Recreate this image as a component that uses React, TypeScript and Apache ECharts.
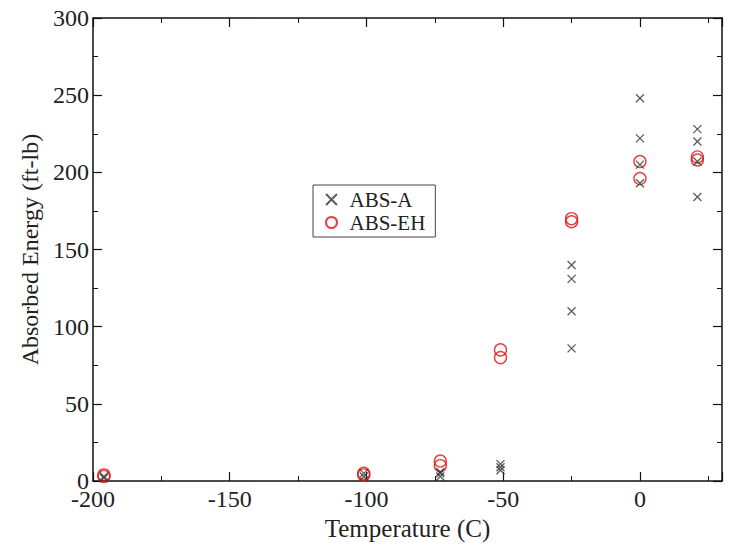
import React, { useEffect, useRef } from "react";
import * as echarts from "echarts";

const absATemps = [-196, -196, -101, -101, -73, -73, -73, -51, -51, -51, -25, -25, -25, -25, 0, 0, 0, 0, 21, 21, 21, 21];
const absAValues = [3, 2, 5, 3, 6, 5, 3, 11, 9, 7, 140, 131, 110, 86, 248, 222, 205, 193, 228, 220, 207, 184];
const absEHTemps = [-196, -196, -101, -101, -73, -73, -51, -51, -25, -25, 0, 0, 21, 21];
const absEHValues = [4, 3, 5, 4, 13, 10, 85, 80, 170, 168, 207, 196, 210, 208];

const FONT = "Liberation Serif";
const CROSS = "path://M0 0L10 10M10 0L0 10";

export default function App() {
  const ref = useRef<HTMLDivElement>(null);
  useEffect(() => {
    if (!ref.current) return;
    const chart = echarts.init(ref.current, null, { renderer: "svg" });
    const axisCommon = {
      type: "value" as const,
      axisLine: { show: true, onZero: false, lineStyle: { color: "#111", width: 1.5 } },
      axisTick: { show: true, inside: true, length: 9, lineStyle: { color: "#111", width: 1.2 } },
      minorTick: { show: true, splitNumber: 2, length: 5, lineStyle: { color: "#111", width: 1 } },
      splitLine: { show: false },
    };
    chart.setOption({
      animation: false,
      backgroundColor: "#fff",
      textStyle: { fontFamily: FONT },
      grid: { left: 93, right: 9, top: 18, bottom: 58, containLabel: false },
      xAxis: [
        {
          ...axisCommon,
          min: -200,
          max: 30,
          interval: 50,
          position: "bottom",
          axisLabel: { show: true, color: "#222", fontSize: 24, fontFamily: FONT, margin: 6, showMaxLabel: false },
          name: "Temperature (C)",
          nameLocation: "middle",
          nameGap: 31,
          nameTextStyle: { color: "#222", fontSize: 25, fontFamily: FONT },
        },
        {
          ...axisCommon,
          min: -200,
          max: 30,
          interval: 50,
          position: "top",
          axisLabel: { show: false },
        },
      ],
      yAxis: [
        {
          ...axisCommon,
          min: 0,
          max: 300,
          interval: 50,
          position: "left",
          axisLabel: { show: true, color: "#222", fontSize: 24, fontFamily: FONT, margin: 4 },
          name: "Absorbed Energy (ft-lb)",
          nameLocation: "middle",
          nameGap: 48,
          nameTextStyle: { color: "#222", fontSize: 24, fontFamily: FONT },
        },
        {
          ...axisCommon,
          min: 0,
          max: 300,
          interval: 50,
          position: "right",
          axisLabel: { show: false },
        },
      ],
      legend: {
        orient: "vertical",
        left: 313,
        top: 185,
        borderColor: "#444",
        borderWidth: 1,
        padding: [4, 10, 4, 12],
        itemGap: 2,
        itemWidth: 14,
        itemHeight: 11,
        textStyle: { fontFamily: FONT, fontSize: 21, lineHeight: 21, color: "#222", padding: [0, 0, 0, 6] },
        data: ["ABS-A", "ABS-EH"],
      },
      series: [
        {
          name: "ABS-A",
          type: "scatter",
          xAxisIndex: 0,
          yAxisIndex: 0,
          symbol: CROSS,
          symbolSize: 8,
          itemStyle: { color: "transparent", borderColor: "#333", borderWidth: 1.3 },
          data: absATemps.map((t, i) => [t, absAValues[i]]),
          z: 3,
        },
        {
          name: "ABS-EH",
          type: "scatter",
          xAxisIndex: 0,
          yAxisIndex: 0,
          symbol: "circle",
          symbolSize: 12,
          itemStyle: { color: "transparent", borderColor: "#e01010", borderWidth: 1.4 },
          data: absEHTemps.map((t, i) => [t, absEHValues[i]]),
          z: 2,
        },
      ],
    });
    return () => chart.dispose();
  }, []);
  return <div ref={ref} style={{ width: 731, height: 546, position: "absolute", left: 0, top: 0 }} />;
}
